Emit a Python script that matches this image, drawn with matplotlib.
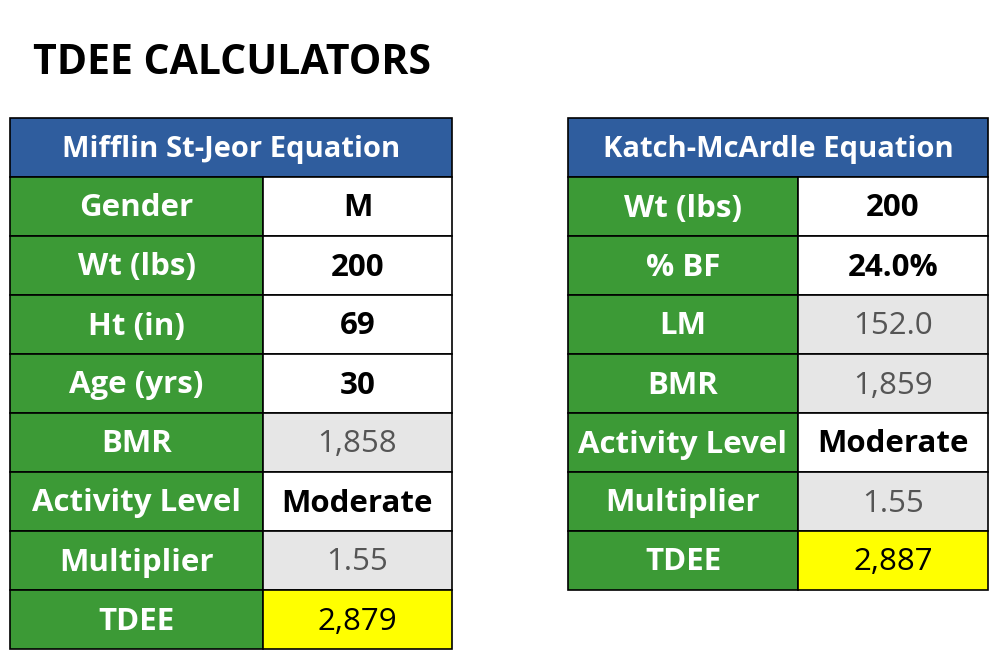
import matplotlib
matplotlib.use("Agg")
import matplotlib.pyplot as plt
from matplotlib.patches import Rectangle

title = "TDEE CALCULATORS"
left_header = "Mifflin St-Jeor Equation"
left_labels = ["Gender", "Wt (lbs)", "Ht (in)", "Age (yrs)", "BMR", "Activity Level", "Multiplier", "TDEE"]
left_values = ["M", "200", "69", "30", "1,858", "Moderate", "1.55", "2,879"]
left_kind = ["in", "in", "in", "in", "calc", "in", "calc", "out"]
right_header = "Katch-McArdle Equation"
right_labels = ["Wt (lbs)", "% BF", "LM", "BMR", "Activity Level", "Multiplier", "TDEE"]
right_values = ["200", "24.0%", "152.0", "1,859", "Moderate", "1.55", "2,887"]
right_kind = ["in", "in", "calc", "calc", "in", "calc", "out"]

BLUE = "#2F5D9E"; GREEN = "#3C9A36"; GRAY = "#E6E6E6"; YELLOW = "#FFFF00"
FONT = ["Open Sans", "DejaVu Sans"]

fig = plt.figure(figsize=(10, 6.67), dpi=100)
ax = fig.add_axes([0, 0, 1, 1])
ax.set_xlim(0, 1000); ax.set_ylim(667, 0); ax.axis("off")

ax.text(33, 64, title, fontsize=29.5, fontweight="bold", family=FONT, va="center", ha="left")

def table(x0, xs, x1, labels, values, kinds, header):
    top, h = 118, 59
    ax.add_patch(Rectangle((x0, top), x1 - x0, h, fc=BLUE, ec="black", lw=1.2))
    ax.text((x0 + x1) / 2, top + h / 2 + 2, header, color="white", fontsize=21, fontweight="bold",
            family=FONT, ha="center", va="center")
    for i, (lab, val, k) in enumerate(zip(labels, values, kinds)):
        y = top + h * (i + 1)
        ax.add_patch(Rectangle((x0, y), xs - x0, h, fc=GREEN, ec="black", lw=1.2))
        fc = {"in": "white", "calc": GRAY, "out": YELLOW}[k]
        ax.add_patch(Rectangle((xs, y), x1 - xs, h, fc=fc, ec="black", lw=1.2))
        ax.text((x0 + xs) / 2, y + h / 2 + 2, lab, color="white", fontsize=22.5, fontweight="bold",
                family=FONT, ha="center", va="center")
        ax.text((xs + x1) / 2, y + h / 2 + 2, val, color="#555555" if k == "calc" else "black",
                fontsize=22.5, fontweight="normal" if k != "in" else "bold",
                family=FONT, ha="center", va="center")

table(10, 263, 452, left_labels, left_values, left_kind, left_header)
table(568, 798, 988, right_labels, right_values, right_kind, right_header)

fig.savefig("out.png", dpi=100)
